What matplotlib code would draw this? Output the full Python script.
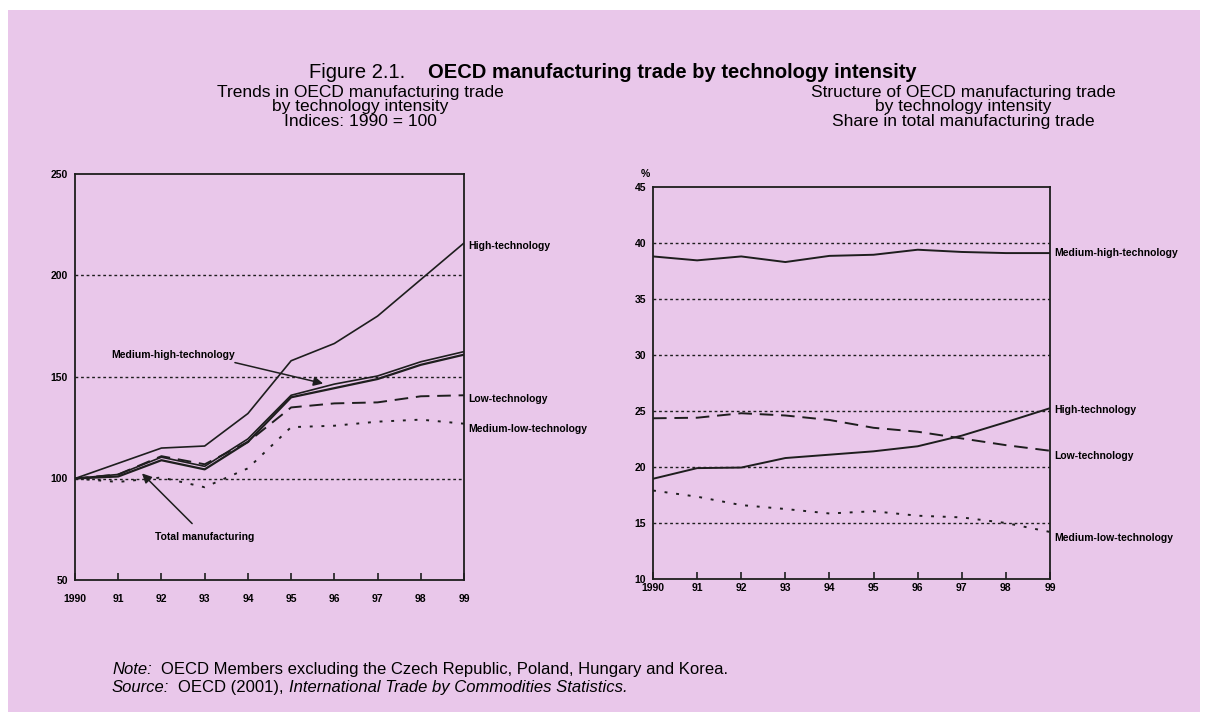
import matplotlib.pyplot as plt
from matplotlib.patches import Rectangle

plt.rcParams['font.family'] = ['Liberation Sans', 'DejaVu Sans']

years = [1990, 1991, 1992, 1993, 1994, 1995, 1996, 1997, 1998, 1999]
year_labels = ['1990', '91', '92', '93', '94', '95', '96', '97', '98', '99']

# left panel: indices 1990 = 100
idx_high = [100, 107.5, 115, 116, 132, 158, 166.5, 180, 198, 216]
idx_medhigh = [100, 102, 110.5, 106, 119.5, 141, 146.5, 150.5, 157.5, 162.5]
idx_total = [100, 101, 109, 104.5, 118, 140, 144.5, 149, 156, 161]
idx_low = [100, 102, 111, 107, 118, 135, 137, 137.5, 140.5, 141]
idx_medlow = [100, 98.3, 100.5, 95.7, 105, 125.3, 126, 128, 129, 127]

# right panel: share in total manufacturing trade (%)
sh_medhigh = [38.8, 38.45, 38.8, 38.3, 38.85, 38.95, 39.4, 39.2, 39.1, 39.1]
sh_high = [18.95, 19.9, 19.95, 20.8, 21.1, 21.4, 21.85, 22.8, 24.0, 25.25]
sh_low = [24.35, 24.4, 24.8, 24.6, 24.2, 23.5, 23.15, 22.55, 21.95, 21.45]
sh_medlow = [17.9, 17.35, 16.6, 16.25, 15.85, 16.05, 15.65, 15.5, 15.0, 14.2]

W, H = 1207, 712
bg = '#e9c7ea'
ink = '#1e1e1e'

fig = plt.figure(figsize=(W / 100, H / 100), dpi=100)
fig.patch.set_facecolor('white')
fig.patches.append(Rectangle((8 / W, 0), (1200 - 8) / W, (H - 10) / H,
                             transform=fig.transFigure, facecolor=bg,
                             edgecolor='none', zorder=-10))


def px_axes(x0, y0, x1, y1):
    return fig.add_axes([x0 / W, 1 - y1 / H, (x1 - x0) / W, (y1 - y0) / H])


def style(ax, ymin, ymax, step, grid_vals, xpad):
    ax.set_facecolor('none')
    ax.set_xlim(years[0], years[-1])
    ax.set_ylim(ymin, ymax)
    ax.set_yticks(range(ymin, ymax + 1, step))
    ax.set_xticks(years)
    ax.set_xticklabels(year_labels)
    for s in ax.spines.values():
        s.set_linewidth(1.3)
        s.set_color(ink)
    ax.tick_params(axis='x', direction='in', length=5, width=1.2, color=ink,
                   pad=xpad, labelsize=7.5)
    ax.tick_params(axis='y', length=0, pad=5, labelsize=7.5)
    for lab in ax.get_xticklabels() + ax.get_yticklabels():
        lab.set_fontweight('bold')
    for g in grid_vals:
        ax.axhline(g, color=ink, lw=1.0, ls=(0, (2, 2)), zorder=1)


lab_kw = dict(fontsize=7.5, fontweight='bold', va='center', ha='left',
              annotation_clip=False, textcoords='offset points')
arrow_kw = dict(arrowstyle='-|>', color=ink, lw=1.1, mutation_scale=14,
                shrinkA=0, shrinkB=0)

# left panel
ax1 = px_axes(75, 174, 464, 580)
style(ax1, 50, 250, 50, [100, 150, 200], 10)
ax1.plot(years, idx_high, color=ink, lw=1.2, zorder=3)
ax1.plot(years, idx_medhigh, color=ink, lw=1.2, zorder=3)
ax1.plot(years, idx_total, color=ink, lw=1.6, zorder=3)
ax1.plot(years, idx_low, color=ink, lw=1.4, ls=(0, (7, 4)), zorder=3)
ax1.plot(years, idx_medlow, color=ink, lw=1.4, ls=(0, (1.5, 4.5)), zorder=3)

ax1.annotate('High-technology', xy=(1999, idx_high[-1]), xytext=(3, -2), **lab_kw)
ax1.annotate('Low-technology', xy=(1999, idx_low[-1]), xytext=(3, -3), **lab_kw)
ax1.annotate('Medium-low-technology', xy=(1999, idx_medlow[-1]), xytext=(3, -4),
             **lab_kw)

ax1.text(1990.83, 161, 'Medium-high-technology', fontsize=7.5, fontweight='bold',
         va='center', ha='left')
ax1.annotate('', xy=(1995.74, 146.8), xytext=(1993.7, 157.1), arrowprops=arrow_kw)
ax1.text(1991.85, 71.4, 'Total manufacturing', fontsize=7.5, fontweight='bold',
         va='center', ha='left')
ax1.annotate('', xy=(1991.55, 102.5), xytext=(1992.71, 77.8), arrowprops=arrow_kw)

# right panel
ax2 = px_axes(653, 187, 1050, 579)
style(ax2, 10, 45, 5, [15, 20, 25, 30, 35, 40], 3)
ax2.plot(years, sh_medhigh, color=ink, lw=1.4, zorder=3)
ax2.plot(years, sh_high, color=ink, lw=1.4, zorder=3)
ax2.plot(years, sh_low, color=ink, lw=1.4, ls=(0, (7, 4)), zorder=3)
ax2.plot(years, sh_medlow, color=ink, lw=1.4, ls=(0, (1.5, 4.5)), zorder=3)
ax2.text(-0.03, 1.02, '%', transform=ax2.transAxes, fontsize=7.5,
         fontweight='bold', ha='left', va='bottom')
ax2.annotate('Medium-high-technology', xy=(1999, sh_medhigh[-1]), xytext=(3, 0),
             **lab_kw)
ax2.annotate('High-technology', xy=(1999, sh_high[-1]), xytext=(3, -1), **lab_kw)
ax2.annotate('Low-technology', xy=(1999, sh_low[-1]), xytext=(3, -4), **lab_kw)
ax2.annotate('Medium-low-technology', xy=(1999, sh_medlow[-1]), xytext=(3, -4),
             **lab_kw)

# titles
fig.text(428 / W, 1 - 73 / H, 'Figure 2.1.    ', fontsize=14.5, ha='right',
         va='center')
fig.text(428 / W, 1 - 73 / H, 'OECD manufacturing trade by technology intensity',
         fontsize=14.5, fontweight='bold', ha='left', va='center')
fig.text(360 / W, 1 - 107 / H,
         'Trends in OECD manufacturing trade\nby technology intensity\nIndices: 1990 = 100',
         fontsize=12.5, ha='center', va='center', linespacing=0.95)
fig.text(963 / W, 1 - 107 / H,
         'Structure of OECD manufacturing trade\nby technology intensity\nShare in total manufacturing trade',
         fontsize=12.5, ha='center', va='center', linespacing=0.95)


# notes: pieces placed one after another on a shared baseline
def text_row(x, y, parts, gap_after):
    for (s, italic), gap in zip(parts, gap_after):
        t = fig.text(x / W, 1 - y / H, s, fontsize=12,
                     style='italic' if italic else 'normal', va='baseline')
        fig.draw_without_rendering()
        x = t.get_window_extent().x1 + gap


text_row(112, 674, [('Note:', True),
                    ('OECD Members excluding the Czech Republic, Poland, Hungary and Korea.', False)],
         [9, 0])
text_row(112, 692, [('Source:', True), ('OECD (2001),', False),
                    ('International Trade by Commodities Statistics.', True)],
         [9, 5, 0])

fig.savefig('out.png', dpi=100, facecolor=fig.get_facecolor())
